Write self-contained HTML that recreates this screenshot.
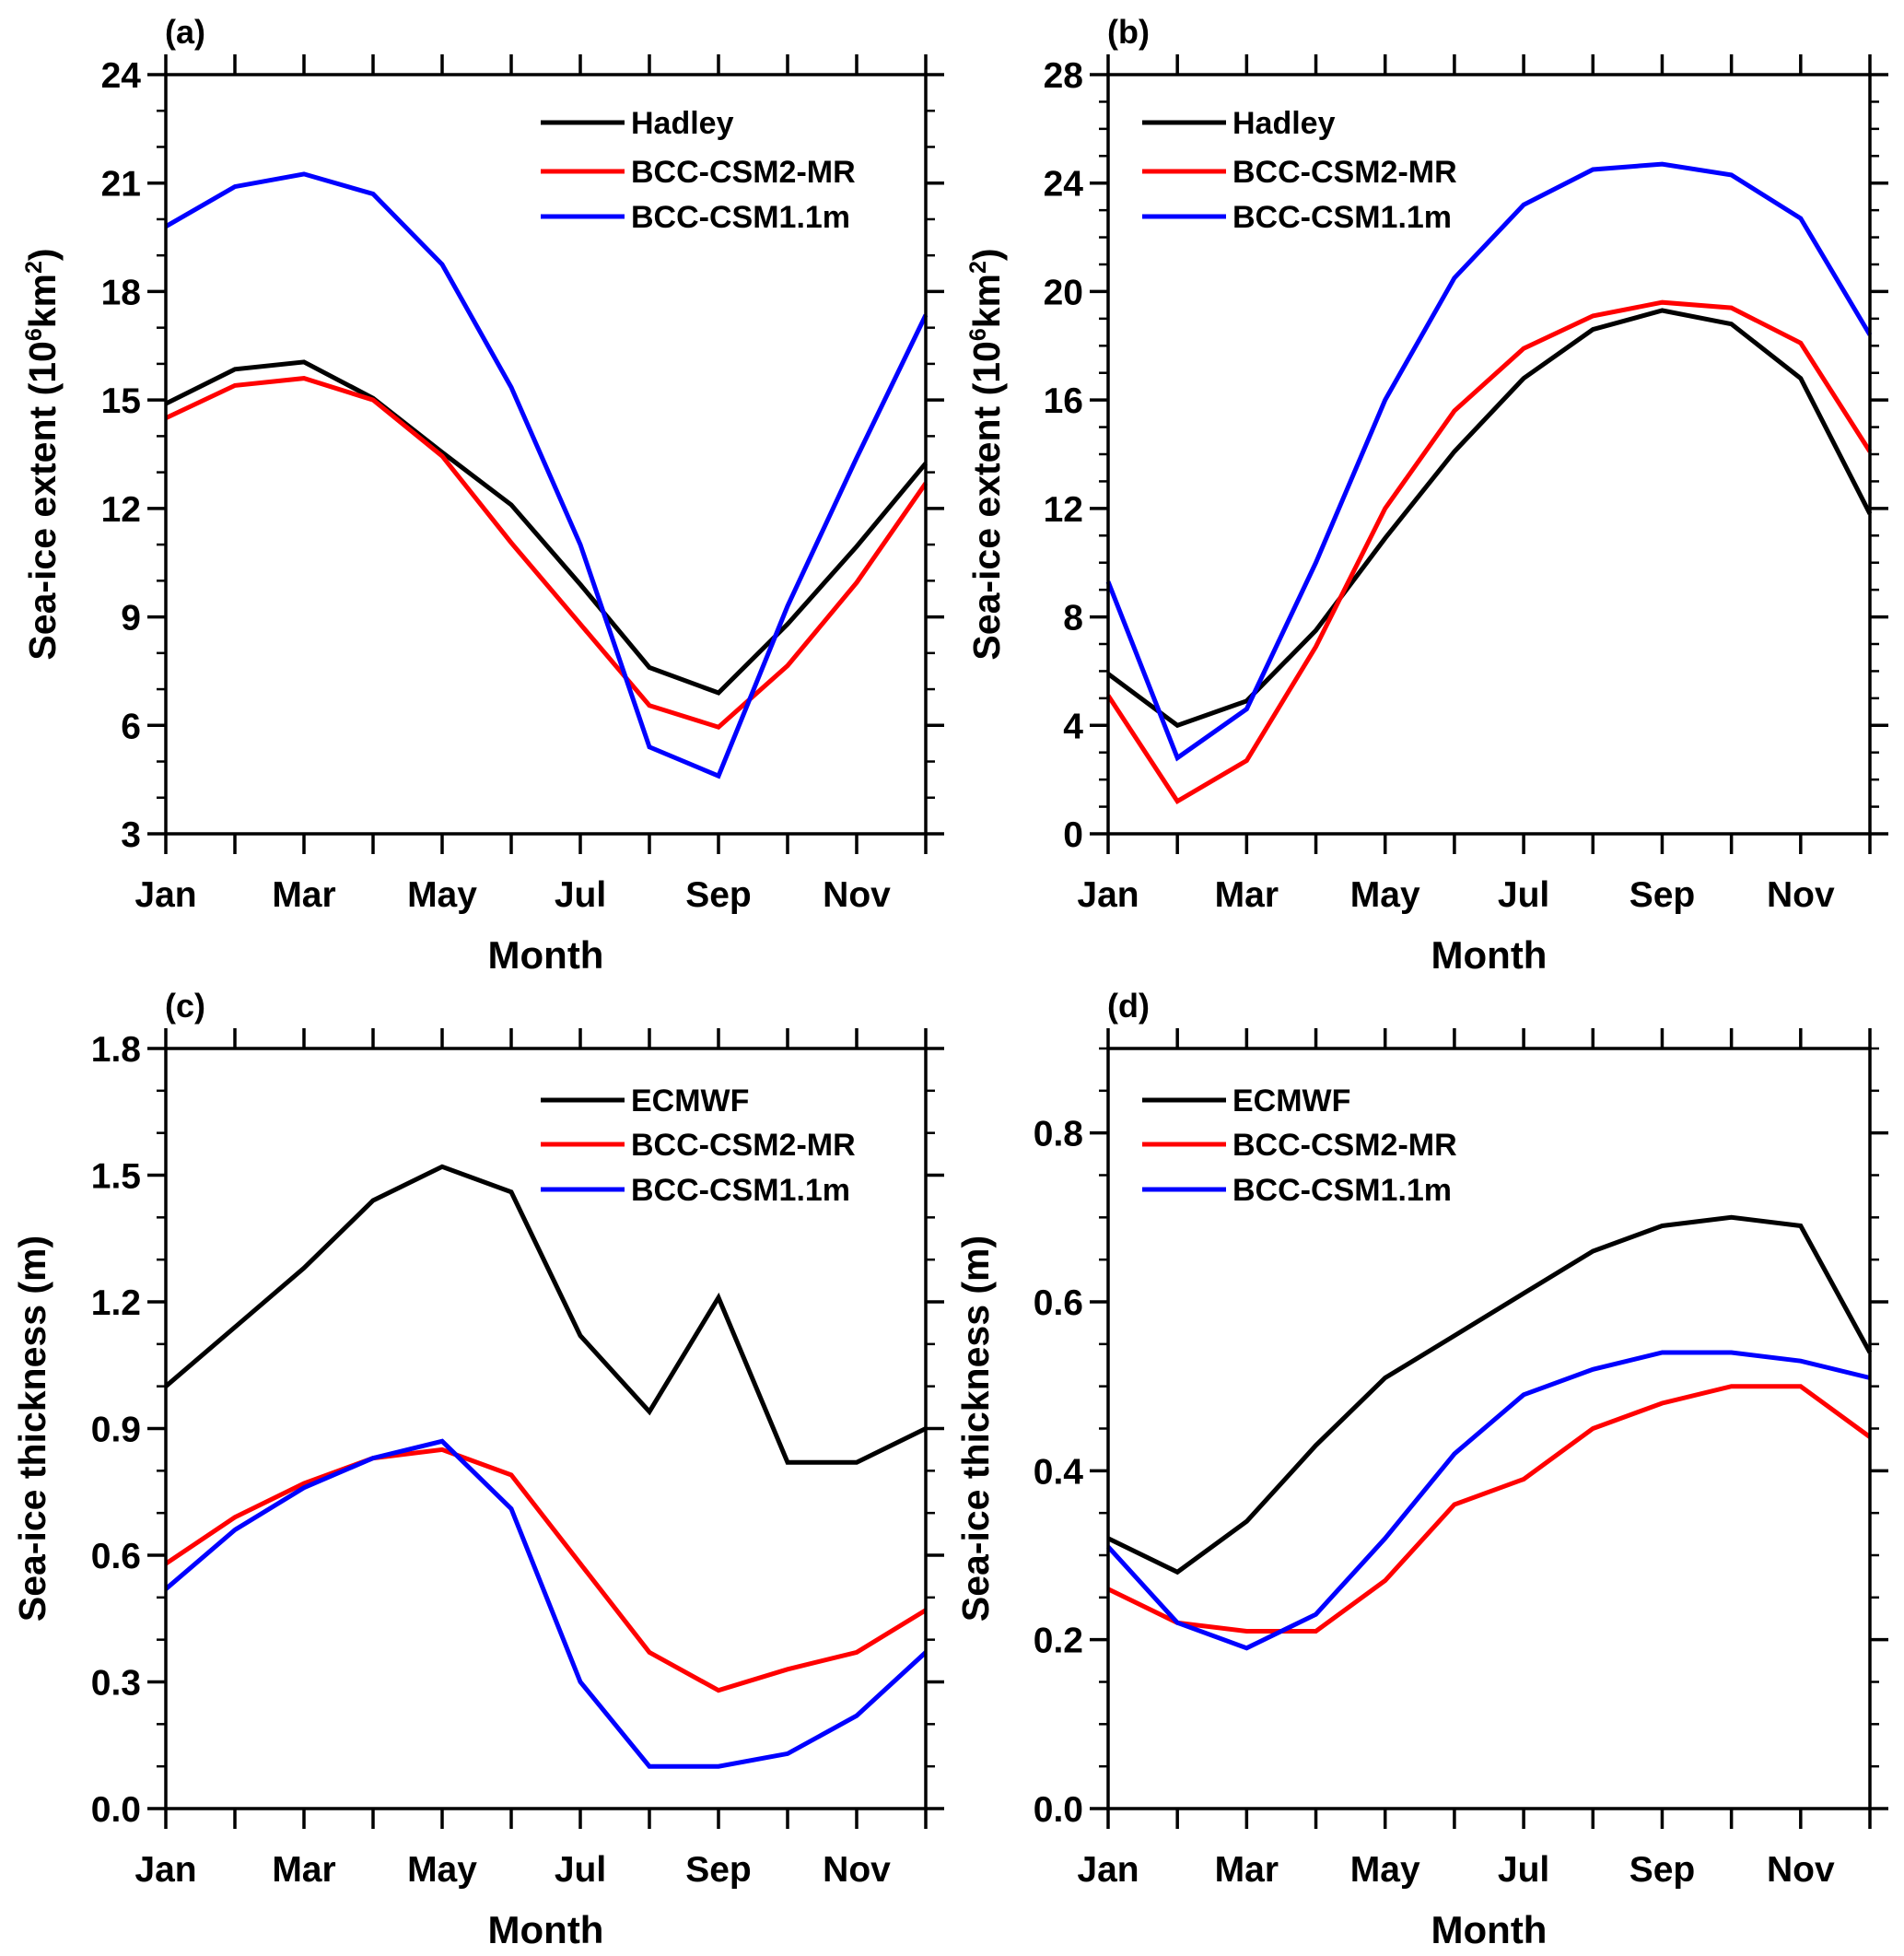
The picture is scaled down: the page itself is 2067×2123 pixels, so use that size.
<!DOCTYPE html>
<html><head><meta charset="utf-8"><style>
html,body{margin:0;padding:0;background:#fff}
svg{display:block}
text{font-family:"Liberation Sans",Arial,sans-serif;font-weight:bold;fill:#000}
</style></head><body>
<svg id="fig" width="2067" height="2123" viewBox="0 0 2067 2123" xmlns="http://www.w3.org/2000/svg"></svg>
<script>
const months = ["Jan","Feb","Mar","Apr","May","Jun","Jul","Aug","Sep","Oct","Nov","Dec"];
const monthLabels = ["Jan","","Mar","","May","","Jul","","Sep","","Nov",""];
const seriesColors = ["#000","#f00","#00f"];
// Panel a
const aHadley = [14.9,15.85,16.05,15.05,13.55,12.1,9.9,7.6,6.9,8.8,10.95,13.25];
const aBcc2 = [14.5,15.4,15.6,15.0,13.45,11.05,8.8,6.55,5.95,7.65,9.95,12.7];
const aBcc1 = [19.8,20.9,21.25,20.7,18.75,15.35,11.0,5.4,4.6,9.3,13.4,17.35];
const aTicks = [3,6,9,12,15,18,21,24];
// Panel b
const bHadley = [5.9,4.0,4.9,7.5,10.9,14.1,16.8,18.6,19.3,18.8,16.8,11.8];
const bBcc2 = [5.1,1.2,2.7,6.9,12.0,15.6,17.9,19.1,19.6,19.4,18.1,14.1];
const bBcc1 = [9.3,2.8,4.6,10.0,16.0,20.5,23.2,24.5,24.7,24.3,22.7,18.4];
const bTicks = [0,4,8,12,16,20,24,28];
// Panel c
const cEcmwf = [1.0,1.14,1.28,1.44,1.52,1.46,1.12,0.94,1.21,0.82,0.82,0.90];
const cBcc2 = [0.58,0.69,0.77,0.83,0.85,0.79,0.58,0.37,0.28,0.33,0.37,0.47];
const cBcc1 = [0.52,0.66,0.76,0.83,0.87,0.71,0.30,0.10,0.10,0.13,0.22,0.37];
const cTicks = ["0.0","0.3","0.6","0.9","1.2","1.5","1.8"];
// Panel d
const dEcmwf = [0.32,0.28,0.34,0.43,0.51,0.56,0.61,0.66,0.69,0.70,0.69,0.54];
const dBcc2 = [0.26,0.22,0.21,0.21,0.27,0.36,0.39,0.45,0.48,0.50,0.50,0.44];
const dBcc1 = [0.31,0.22,0.19,0.23,0.32,0.42,0.49,0.52,0.54,0.54,0.53,0.51];
const dTicks = ["0.0","0.2","0.4","0.6","0.8"];

const svg = document.getElementById('fig');
const NS = "http://www.w3.org/2000/svg";
function mk(tag, attrs, parent){
  const e = document.createElementNS(NS, tag);
  for (const k in attrs) e.setAttribute(k, attrs[k]);
  (parent||svg).appendChild(e);
  return e;
}
function panel(p){
  const g = mk('g', {});
  
  
  const L=p.x0, R=p.x1, T=p.y0, B=p.y1;
  const xs = i => L + (R-L)*i/11;
  const ys = v => B - (B-T)*(v-p.ymin)/(p.ymax-p.ymin);
  for (let v=p.ymin; v<=p.ymax+1e-9; v+=p.minor){
    const y = ys(v);
    const t1 = mk('line',{x1:L-10,x2:L,y1:y,y2:y,stroke:'#000','stroke-width':2.5},g);
    
    
    const t2 = mk('line',{x1:R,x2:R+10,y1:y,y2:y,stroke:'#000','stroke-width':2.5},g);
    
    
  }
  p.ticks.forEach(t => {
    const v = parseFloat(t);
    const y = ys(v);
    const a = mk('line',{x1:L-20,x2:L,y1:y,y2:y,stroke:'#000','stroke-width':3.5},g);
    
    
    const b = mk('line',{x1:R,x2:R+20,y1:y,y2:y,stroke:'#000','stroke-width':3.5},g);
    
    
    const tx = mk('text',{x:L-27,y:y+14,'text-anchor':'end','font-size':39},g);
    
    
    tx.textContent = t;
  });
  months.forEach((m,i) => {
    const x = xs(i);
    const a = mk('line',{x1:x,x2:x,y1:B,y2:B+22,stroke:'#000','stroke-width':3.5},g);
    
    
    const b = mk('line',{x1:x,x2:x,y1:T-22,y2:T,stroke:'#000','stroke-width':3.5},g);
    
    
    if (monthLabels[i]){
      const tx = mk('text',{x:x,y:B+79,'text-anchor':'middle','font-size':39},g);
      
      
      tx.textContent = monthLabels[i];
    }
  });
  p.series.forEach((s,k) => {
    const pts = s.map((v,i)=> xs(i).toFixed(1)+','+ys(v).toFixed(1)).join(' ');
    const pl = mk('polyline',{points:pts,fill:'none',stroke:seriesColors[k],'stroke-width':5,'stroke-linejoin':'miter'},g);
    
    
  });
  const fr = mk('rect',{x:L,y:T,width:R-L,height:B-T,fill:'none',stroke:'#000','stroke-width':3.5},g);
  
  
  p.names.forEach((n,k) => {
    const y = p.legY[k];
    const lg = mk('g',{},g);
    
    
    mk('line',{x1:p.legX,x2:p.legX+91,y1:y,y2:y,stroke:seriesColors[k],'stroke-width':5},lg);
    const tx = mk('text',{x:p.legX+98,y:y+12,'font-size':34},lg);
    tx.textContent = n;
  });
  const pl = mk('text',{x:L-1,y:T-34,'font-size':36},g);
  
  
  pl.textContent = '(' + p.id + ')';
  const xt = mk('text',{x:(L+R)/2,y:B+146,'text-anchor':'middle','font-size':42},g);
  
  
  xt.textContent = 'Month';
  const yt = mk('text',{x:0,y:0,'text-anchor':'middle','font-size':41,transform:`translate(${p.ytX},${(T+B)/2}) rotate(-90)`},g);
  
  
  yt.innerHTML = p.ytitle;
}
const extTitle = 'Sea-ice extent (10<tspan dy="-15" font-size="25">6</tspan><tspan dy="15">km</tspan><tspan dy="-15" font-size="25">2</tspan><tspan dy="15">)</tspan>';
const thkTitle = 'Sea-ice  thickness (m)';
panel({id:'a',x0:180,x1:1005,y0:81,y1:905,ymin:3,ymax:24,minor:1,ticks:aTicks.map(String),
  series:[aHadley,aBcc2,aBcc1],names:['Hadley','BCC-CSM2-MR','BCC-CSM1.1m'],legX:587,legY:[133,186,235],ytX:60,ytitle:extTitle});
panel({id:'b',x0:1203,x1:2030,y0:81,y1:905,ymin:0,ymax:28,minor:1,ticks:bTicks.map(String),
  series:[bHadley,bBcc2,bBcc1],names:['Hadley','BCC-CSM2-MR','BCC-CSM1.1m'],legX:1240,legY:[133,186,235],ytX:1085,ytitle:extTitle});
panel({id:'c',x0:180,x1:1005,y0:1138,y1:1963,ymin:0,ymax:1.8,minor:0.1,ticks:cTicks,
  series:[cEcmwf,cBcc2,cBcc1],names:['ECMWF','BCC-CSM2-MR','BCC-CSM1.1m'],legX:587,legY:[1194,1242,1291],ytX:49,ytitle:thkTitle});
panel({id:'d',x0:1203,x1:2030,y0:1138,y1:1963,ymin:0,ymax:0.9,minor:0.05,ticks:dTicks,
  series:[dEcmwf,dBcc2,dBcc1],names:['ECMWF','BCC-CSM2-MR','BCC-CSM1.1m'],legX:1240,legY:[1194,1242,1291],ytX:1073,ytitle:thkTitle});
</script>
</body></html>
